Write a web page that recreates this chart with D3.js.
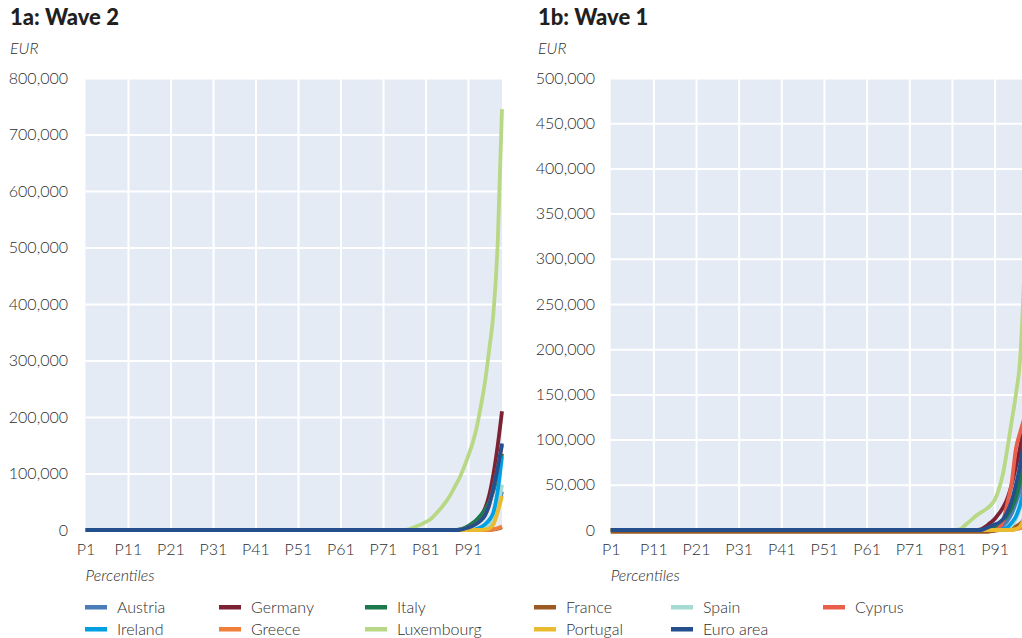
<!DOCTYPE html>
<html><head><meta charset="utf-8">
<script src="https://cdn.jsdelivr.net/npm/d3@7"></script>
<style>
html,body{margin:0;padding:0;background:#fff;}
svg{display:block;font-family:Lato,"Open Sans",sans-serif;}
</style></head>
<body>
<svg id="c" width="1022" height="638"></svg>
<script>
// ---------- DATA ----------
const percentiles = d3.range(1, 100);              // P1..P99
const xTickValues = [1, 11, 21, 31, 41, 51, 61, 71, 81, 91];
const xTickLabels = ["P1","P11","P21","P31","P41","P51","P61","P71","P81","P91"];
const yTicksWave2 = [0,100000,200000,300000,400000,500000,600000,700000,800000];
const yTicksWave1 = [0,50000,100000,150000,200000,250000,300000,350000,400000,450000,500000];

const countries = ["Austria","Germany","Italy","France","Spain","Cyprus","Ireland","Greece","Luxembourg","Portugal","Euro area"];
const colors    = ["#4a7db8","#7b2335","#1b7a4c","#9c5a23","#a6dbd4","#e8604c","#00a0e3","#f07f3c","#b8d886","#ebbb2f","#234f8c"];

// Tail values (from the given start percentile to P99); all lower percentiles read as 0.
// Wave 2 (panel 1a)
const w2_start = { "Austria":94,"Germany":91,"Italy":89,"France":97,"Spain":94,"Cyprus":90,"Ireland":93,"Greece":97,"Luxembourg":77,"Portugal":95,"Euro area":90 };
const w2_Austria    = [2000,5000,10000,20000,38000,68000];
const w2_Germany    = [5000,10000,16000,25000,38000,62000,100000,150000,210000];
const w2_Italy      = [1000,3000,7000,12000,18000,26000,36000,50000,70000,98000,135000];
const w2_France     = [1000,2500,5000];
const w2_Spain      = [2000,5000,10000,18000,40000,80000];
const w2_Cyprus     = [2000,4000,7000,11000,17000,26000,45000,75000,110000,150000];
const w2_Ireland    = [2000,5000,10000,18000,32000,70000,130000];
const w2_Greece     = [1000,3000,6000];
const w2_Luxembourg = [1000,4000,7000,10000,14000,18000,25000,33000,42000,52000,64000,78000,92000,110000,130000,152000,180000,218000,262000,320000,385000,510000,745000];
const w2_Portugal   = [1000,3000,10000,32000,60000];
const w2_EuroArea   = [2000,4000,7000,11000,17000,26000,45000,75000,110000,153000];

// Wave 1 (panel 1b)
const w1_start = { "Austria":92,"Germany":88,"Italy":90,"France":90,"Spain":94,"Cyprus":92,"Ireland":93,"Greece":96,"Luxembourg":83,"Portugal":96,"Euro area":89 };
const w1_Austria    = [2000,5000,10000,18000,30000,45000,70000,110000];
const w1_Germany    = [1000,4000,8000,12000,18000,25000,35000,50000,70000,92000,120000,170000];
const w1_Italy      = [1000,3000,6000,10000,16000,24000,36000,55000,85000,140000];
const w1_France_low = -2000;   // visible just under the zero line up to P89
const w1_France     = [-1500,-1000,0,500,1000,2000,4000,7000,12000,20000]; // P90..P99
const w1_Spain      = [2000,5000,12000,25000,45000,90000];
const w1_Cyprus     = [2000,10000,30000,52000,90000,108000,125000,150000];
const w1_Ireland    = [1000,3000,8000,15000,28000,50000,90000];
const w1_Greece     = [1000,2000,5000,10000];
const w1_Luxembourg = [1000,5000,9000,13000,17000,20000,23000,27000,33000,45000,63000,90000,120000,150000,190000,290000,430000];
const w1_Portugal   = [1000,4000,15000,40000];
const w1_EuroArea   = [2000,4000,6000,8000,12000,20000,32000,50000,72000,105000,160000];

function build(startMap, tails, lowFill) {
  return countries.map((c, i) => {
    const s = startMap[c];
    const tail = tails[i];
    const low = (lowFill && lowFill[c] !== undefined) ? lowFill[c] : 0;
    const full = percentiles.map(p => p < s ? low : tail[p - s]);
    return { name: c, color: colors[i], values: full };
  });
}
const wave2 = build(w2_start, [w2_Austria,w2_Germany,w2_Italy,w2_France,w2_Spain,w2_Cyprus,w2_Ireland,w2_Greece,w2_Luxembourg,w2_Portugal,w2_EuroArea]);
const wave1 = build(w1_start, [w1_Austria,w1_Germany,w1_Italy,w1_France,w1_Spain,w1_Cyprus,w1_Ireland,w1_Greece,w1_Luxembourg,w1_Portugal,w1_EuroArea], { "France": w1_France_low });

// ---------- DRAW ----------
const svg = d3.select("#c");
const textCol = "#2e2e2e";
const fmt = d3.format(",");
const fs = 16;

function panel(opts) {
  const { x0, x1, yTop, yBot, yMax, yTicks, series, title, tx, labelRight } = opts;
  const x = d3.scaleLinear().domain([1, 99]).range([x0, x1]);
  const y = d3.scaleLinear().domain([0, yMax]).range([yBot, yTop]);
  const g = svg.append("g");

  g.append("text").attr("x", tx).attr("y", 25).attr("font-size", 22).attr("font-weight", 900)
    .attr("fill", "#231f20").text(title);
  g.append("text").attr("x", tx).attr("y", 54).attr("font-size", fs).attr("font-style", "italic")
    .attr("font-weight", 300).attr("fill", textCol).text("EUR");

  g.append("rect").attr("x", x0).attr("y", yTop).attr("width", x1 - x0).attr("height", yBot - yTop)
    .attr("fill", "#e4ebf4");

  // gridlines
  g.append("g").attr("transform", `translate(0,${yBot})`)
    .call(d3.axisBottom(x).tickValues(xTickValues.slice(1)).tickSize(-(yBot - yTop)).tickFormat(""))
    .call(a => a.select(".domain").remove())
    .call(a => a.selectAll("line").attr("stroke", "#fff").attr("stroke-width", 2));
  g.append("g").attr("transform", `translate(${x0},0)`)
    .call(d3.axisLeft(y).tickValues(yTicks.slice(1)).tickSize(-(x1 - x0)).tickFormat(""))
    .call(a => a.select(".domain").remove())
    .call(a => a.selectAll("line").attr("stroke", "#fff").attr("stroke-width", 2));

  // y labels
  g.append("g").attr("transform", `translate(${labelRight},0)`)
    .call(d3.axisLeft(y).tickValues(yTicks).tickSize(0).tickPadding(0).tickFormat(d => fmt(d)))
    .call(a => a.select(".domain").remove())
    .call(a => a.selectAll("text").attr("font-size", fs).attr("font-weight", 300).attr("fill", textCol).attr("font-family", "Lato"));

  // x labels
  g.append("g").attr("transform", `translate(0,${yBot + 14})`)
    .call(d3.axisBottom(x).tickValues(xTickValues).tickSize(0).tickPadding(0)
      .tickFormat((d, i) => xTickLabels[i]))
    .call(a => a.select(".domain").remove())
    .call(a => a.selectAll("text").attr("font-size", fs).attr("font-weight", 300).attr("fill", textCol).attr("font-family", "Lato"));

  g.append("text").attr("x", x0).attr("y", 581).attr("font-size", fs).attr("font-style", "italic")
    .attr("font-weight", 300).attr("fill", textCol).text("Percentiles");

  const line = d3.line().x((d, i) => x(percentiles[i])).y(d => y(d)).curve(d3.curveMonotoneX);
  g.append("g").selectAll("path").data(series).join("path")
    .attr("d", d => line(d.values))
    .attr("fill", "none").attr("stroke", d => d.color).attr("stroke-width", 3.8)
    .attr("stroke-linejoin", "round");
}

panel({ x0: 85.5, x1: 502, yTop: 78, yBot: 530, yMax: 800000, yTicks: yTicksWave2,
        series: wave2, title: "1a: Wave 2", tx: 10, labelRight: 68 });
panel({ x0: 610.7, x1: 1028.7, yTop: 78, yBot: 530, yMax: 500000, yTicks: yTicksWave1,
        series: wave1, title: "1b: Wave 1", tx: 538, labelRight: 595 });

// legend (row-major, 6 columns)
const legX = [85, 219, 365, 534, 671, 823];
const legY = [607, 629];
const lg = svg.append("g").selectAll("g").data(countries).join("g")
  .attr("transform", (d, i) => `translate(${legX[i % 6]},${legY[Math.floor(i / 6)]})`);
lg.append("rect").attr("x", 0).attr("y", -2).attr("width", 22).attr("height", 4.5)
  .attr("fill", (d, i) => colors[i]);
lg.append("text").attr("x", 32).attr("y", 0).attr("dy", "0.35em").attr("font-size", fs)
  .attr("font-weight", 300).attr("fill", textCol).text(d => d);
</script>
</body></html>
